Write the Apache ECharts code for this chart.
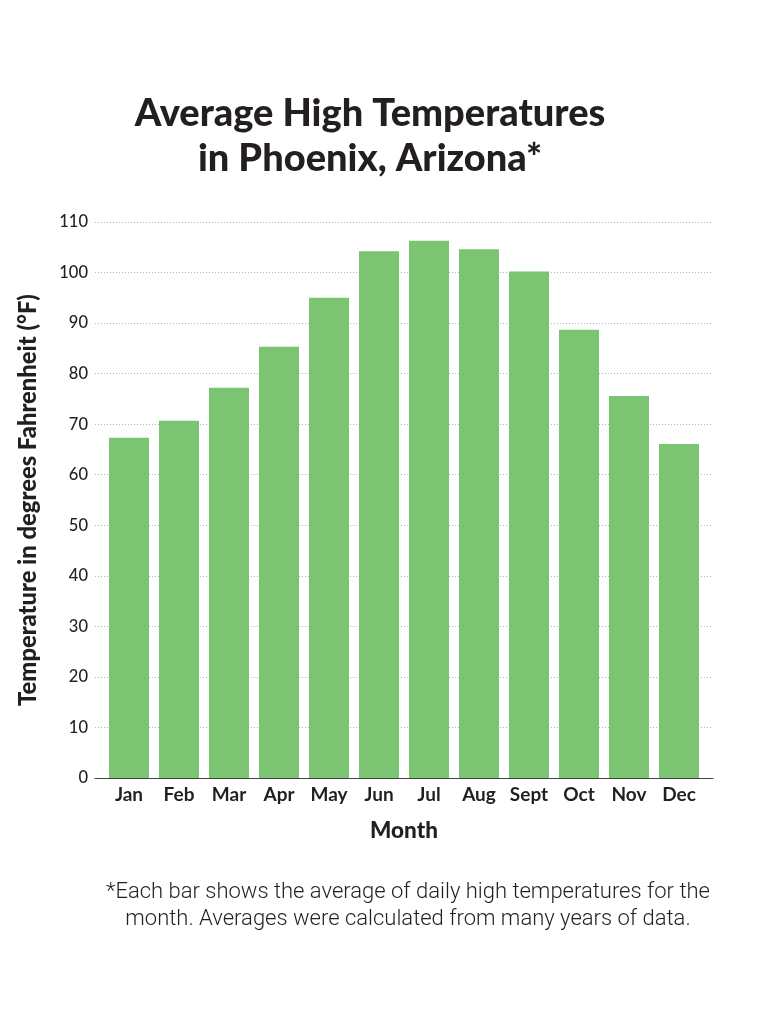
<!DOCTYPE html>
<html>
<head>
<meta charset="utf-8">
<script src="https://cdn.jsdelivr.net/npm/echarts@6/dist/echarts.min.js"></script>
<style>
html,body{margin:0;padding:0;background:#fff;}
#chart{width:758px;height:1024px;}
</style>
</head>
<body>
<div id="chart"></div>
<script>
const months = ['Jan','Feb','Mar','Apr','May','Jun','Jul','Aug','Sept','Oct','Nov','Dec'];
const avgHigh = [67.3, 70.7, 77.2, 85.3, 95.0, 104.2, 106.3, 104.6, 100.2, 88.7, 75.6, 66.1];
const yTicks = {min: 0, max: 110, interval: 10};
const titleText = 'Average High Temperatures\nin Phoenix, Arizona*';
const yName = 'Temperature in degrees Fahrenheit (°F)';
const xName = 'Month';
const footnote = '*Each bar shows the average of daily high temperatures for the\nmonth. Averages were calculated from many years of data.';

const ink = '#231f20';
const chart = echarts.init(document.getElementById('chart'), null, {renderer: 'canvas'});
chart.setOption({
  backgroundColor: '#fff',
  animation: false,
  title: [{
    text: titleText,
    left: 365, top: 86, textAlign: 'center',
    textStyle: {fontFamily: 'Lato', fontWeight: 900, fontSize: 38, lineHeight: 45, color: ink}
  }, {
    text: footnote,
    left: 403, top: 874, textAlign: 'center',
    textStyle: {fontFamily: 'Roboto', fontWeight: 300, fontSize: 22, lineHeight: 27, color: ink}
  }],
  grid: [
    {left: 95, right: 45, top: 222, bottom: 246},
    {left: 104, width: 600, top: 222, bottom: 246}
  ],
  xAxis: [{
    gridIndex: 0, type: 'value', min: 0, max: 1,
    axisLine: {show: true, lineStyle: {color: '#444', width: 1}},
    axisTick: {show: false}, axisLabel: {show: false}, splitLine: {show: false}
  }, {
    gridIndex: 1, type: 'category', data: months,
    axisLine: {show: false}, axisTick: {show: false},
    axisLabel: {margin: 7, fontFamily: 'Lato', fontWeight: 700, fontSize: 19, color: ink},
    name: xName, nameLocation: 'middle', nameGap: 41,
    nameTextStyle: {fontFamily: 'Lato', fontWeight: 900, fontSize: 22.5, color: ink}
  }],
  yAxis: [{
    gridIndex: 0, type: 'value', min: yTicks.min, max: yTicks.max, interval: yTicks.interval,
    axisLine: {show: false}, axisTick: {show: false},
    axisLabel: {margin: 7, fontFamily: 'Lato', fontWeight: 500, fontSize: 16.5, color: ink},
    splitLine: {show: true, lineStyle: {color: '#b5b5b5', width: 1, type: [1, 2]}},
    name: yName, nameLocation: 'middle', nameGap: 55, nameRotate: 90,
    nameTextStyle: {fontFamily: 'Lato', fontWeight: 900, fontSize: 23.8, color: ink}
  }, {
    gridIndex: 1, type: 'value', min: yTicks.min, max: yTicks.max, interval: yTicks.interval,
    show: false, splitLine: {show: false}
  }],
  series: [{
    type: 'bar', xAxisIndex: 1, yAxisIndex: 1,
    data: avgHigh, barCategoryGap: '20%',
    itemStyle: {color: '#7bc572'}
  }]
});
</script>
</body>
</html>
